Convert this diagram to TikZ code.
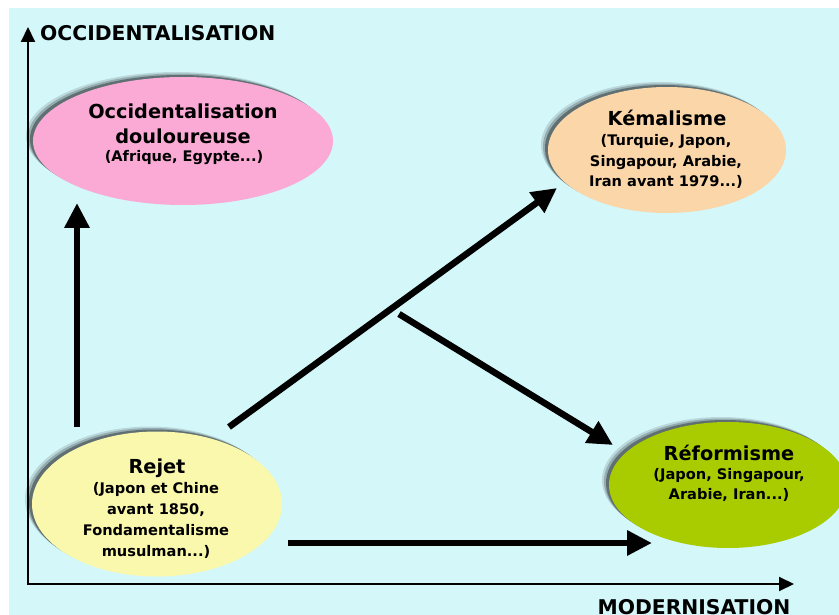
\documentclass[tikz,border=0pt]{standalone}
\usepackage{fontspec}
\setmainfont{DejaVu Sans}
\usetikzlibrary{arrows.meta,shapes.geometric,shadows}
\definecolor{bgc}{RGB}{212,247,250}
\definecolor{pinkc}{RGB}{250,170,213}
\definecolor{peachc}{RGB}{250,214,168}
\definecolor{greenc}{RGB}{168,204,0}
\definecolor{yellowc}{RGB}{250,248,172}
\newcommand\myttlfont{\fontsize{19.3}{25.5}\selectfont\bfseries}
\newcommand\mysubfont{\fontsize{14.6}{20.9}\selectfont\bfseries}
\newcommand\myaxfont{\fontsize{20.3}{24}\selectfont\bfseries}
\begin{document}
\begin{tikzpicture}[x=1pt,y=-1pt,
  ell/.style={ellipse,draw=none,inner sep=0pt,
    general shadow={fill=black,opacity=0.12,shadow xshift=-7pt,shadow yshift=5pt},
    general shadow={fill=black,opacity=0.20,shadow xshift=-5pt,shadow yshift=3.5pt},
    general shadow={fill=black,opacity=0.35,shadow xshift=-3pt,shadow yshift=2pt}},
  ttl/.style={font=\myttlfont,align=center,inner sep=0pt,text=black},
  sub/.style={font=\mysubfont,align=center,inner sep=0pt,text=black},
  axl/.style={font=\myaxfont,inner sep=0pt,text=black},
  axis/.style={line width=2pt,{Triangle[length=15pt,width=14pt]}-{Triangle[length=15pt,width=14pt]}},
  big/.style={line width=6.5pt,-{Triangle[length=25pt,width=24pt]}}]
\useasboundingbox (0,0) rectangle (839,615);
\clip (0,0) rectangle (839,615);
\fill[white] (0,0) rectangle (839,615);
\fill[bgc] (9,8) rectangle (839,615);

% axes
\coordinate (o) at (28,584);
\coordinate (ytip) at (28,27);
\coordinate (xtip) at (794,584);
\draw[axis] (ytip) -- (o) -- (xtip);
\node[axl,anchor=base west] (ylab) at (40,41) {OCCIDENTALISATION};
\node[axl,anchor=base] (xlab) at (694,614) {MODERNISATION};

% ellipses
\node[ell,fill=pinkc,minimum width=300pt,minimum height=128pt] (occ) at (183,141) {};
\node[ell,fill=peachc,minimum width=238pt,minimum height=126pt] (kem) at (667,150) {};
\node[ell,fill=greenc,minimum width=238pt,minimum height=126pt] (ref) at (728,485) {};
\node[ell,fill=yellowc,minimum width=250pt,minimum height=145pt] (rej) at (157,504) {};

% texts
\node[ttl] (occT) at (183,124) {Occidentalisation\\douloureuse};
\node[sub] (occS) at (184,158) {(Afrique, Egypte...)};
\node[ttl] (kemT) at (667,118) {Kémalisme};
\node[sub] (kemS) at (666,161.5) {(Turquie, Japon,\\Singapour, Arabie,\\Iran avant 1979...)};
\node[ttl] (refT) at (729,453) {Réformisme};
\node[sub] (refS) at (729,485) {(Japon, Singapour,\\Arabie, Iran...)};
\node[ttl] (rejT) at (157,468) {Rejet};
\node[sub] (rejS) at (156,520.5) {(Japon et Chine\\avant 1850,\\Fondamentalisme\\musulman...)};

% arrows
\coordinate (a1s) at (77,427);
\coordinate (a1e) at (77,203);
\coordinate (a2s) at (229,427);
\coordinate (a2e) at (557,188);
\coordinate (a3s) at (399,314);
\coordinate (a3e) at (613,445);
\coordinate (a4s) at (288,543);
\coordinate (a4e) at (652,543);
\draw[big] (a1s) -- (a1e);
\draw[big] (a2s) -- (a2e);
\draw[big] (a3s) -- (a3e);
\draw[big] (a4s) -- (a4e);
\end{tikzpicture}
\end{document}
